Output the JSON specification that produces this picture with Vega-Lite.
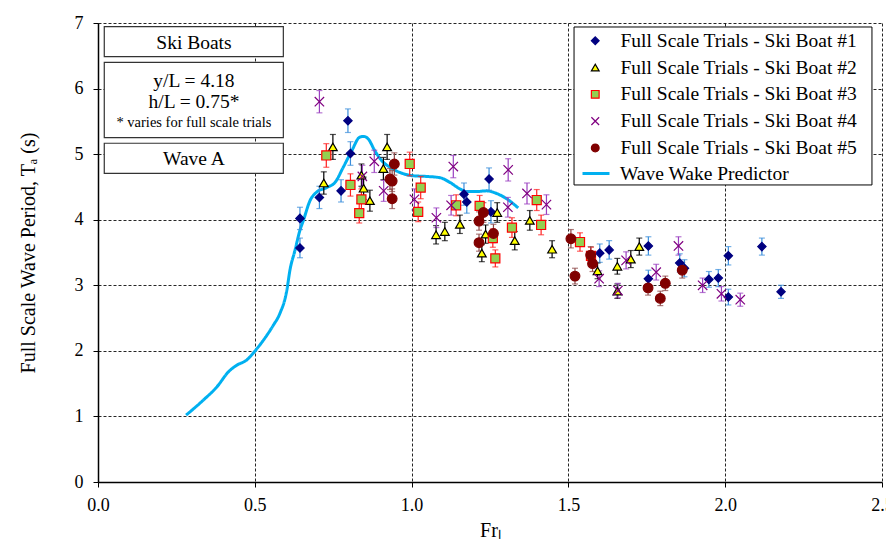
{
  "$schema": "https://vega.github.io/schema/vega-lite/v6.json",
  "width": 784,
  "height": 459,
  "autosize": {"type": "none"},
  "padding": {"left": 98, "top": 23, "right": 4, "bottom": 60},
  "background": "#ffffff",
  "config": {
    "font": "Liberation Serif",
    "view": {"stroke": null},
    "axis": {
      "labelFont": "Liberation Serif",
      "labelFontSize": 18,
      "labelColor": "#000000",
      "titleFont": "Liberation Serif",
      "titleFontSize": 20,
      "titleFontWeight": "normal",
      "titleColor": "#000000",
      "domainColor": "#000000",
      "domainWidth": 1.5,
      "tickColor": "#000000",
      "tickSize": 5,
      "gridColor": "#000000",
      "gridDash": [3, 2],
      "gridWidth": 1,
      "gridOpacity": 0.85,
      "labelFlush": false
    },
    "legend": {
      "labelFont": "Liberation Serif",
      "labelFontSize": 19.5,
      "labelColor": "#000000",
      "labelLimit": 400,
      "padding": 0,
      "rowPadding": 5.8
    }
  },
  "datasets": {
    "pts": [
      {"fr": 0.644, "t": 3.57, "err": 0.15, "series": "Full Scale Trials - Ski Boat #1"},
      {"fr": 0.644, "t": 4.02, "err": 0.17, "series": "Full Scale Trials - Ski Boat #1"},
      {"fr": 0.706, "t": 4.34, "err": 0.17, "series": "Full Scale Trials - Ski Boat #1"},
      {"fr": 0.775, "t": 4.44, "err": 0.17, "series": "Full Scale Trials - Ski Boat #1"},
      {"fr": 0.797, "t": 5.51, "err": 0.18, "series": "Full Scale Trials - Ski Boat #1"},
      {"fr": 0.805, "t": 5.01, "err": 0.18, "series": "Full Scale Trials - Ski Boat #1"},
      {"fr": 1.167, "t": 4.39, "err": 0.17, "series": "Full Scale Trials - Ski Boat #1"},
      {"fr": 1.176, "t": 4.27, "err": 0.17, "series": "Full Scale Trials - Ski Boat #1"},
      {"fr": 1.247, "t": 4.62, "err": 0.17, "series": "Full Scale Trials - Ski Boat #1"},
      {"fr": 1.253, "t": 4.12, "err": 0.17, "series": "Full Scale Trials - Ski Boat #1"},
      {"fr": 1.600, "t": 3.49, "err": 0.14, "series": "Full Scale Trials - Ski Boat #1"},
      {"fr": 1.630, "t": 3.54, "err": 0.14, "series": "Full Scale Trials - Ski Boat #1"},
      {"fr": 1.755, "t": 3.60, "err": 0.14, "series": "Full Scale Trials - Ski Boat #1"},
      {"fr": 1.755, "t": 3.10, "err": 0.13, "series": "Full Scale Trials - Ski Boat #1"},
      {"fr": 1.855, "t": 3.34, "err": 0.14, "series": "Full Scale Trials - Ski Boat #1"},
      {"fr": 1.870, "t": 3.26, "err": 0.13, "series": "Full Scale Trials - Ski Boat #1"},
      {"fr": 1.948, "t": 3.09, "err": 0.12, "series": "Full Scale Trials - Ski Boat #1"},
      {"fr": 1.978, "t": 3.11, "err": 0.13, "series": "Full Scale Trials - Ski Boat #1"},
      {"fr": 2.010, "t": 3.45, "err": 0.14, "series": "Full Scale Trials - Ski Boat #1"},
      {"fr": 2.010, "t": 2.82, "err": 0.12, "series": "Full Scale Trials - Ski Boat #1"},
      {"fr": 2.117, "t": 3.59, "err": 0.13, "series": "Full Scale Trials - Ski Boat #1"},
      {"fr": 2.178, "t": 2.90, "err": 0.10, "series": "Full Scale Trials - Ski Boat #1"},

      {"fr": 0.720, "t": 4.56, "err": 0.17, "series": "Full Scale Trials - Ski Boat #2"},
      {"fr": 0.749, "t": 5.11, "err": 0.19, "series": "Full Scale Trials - Ski Boat #2"},
      {"fr": 0.840, "t": 4.68, "err": 0.17, "series": "Full Scale Trials - Ski Boat #2"},
      {"fr": 0.847, "t": 4.48, "err": 0.17, "series": "Full Scale Trials - Ski Boat #2"},
      {"fr": 0.867, "t": 4.29, "err": 0.16, "series": "Full Scale Trials - Ski Boat #2"},
      {"fr": 0.922, "t": 5.11, "err": 0.19, "series": "Full Scale Trials - Ski Boat #2"},
      {"fr": 0.910, "t": 4.78, "err": 0.17, "series": "Full Scale Trials - Ski Boat #2"},
      {"fr": 1.078, "t": 3.77, "err": 0.14, "series": "Full Scale Trials - Ski Boat #2"},
      {"fr": 1.106, "t": 3.82, "err": 0.14, "series": "Full Scale Trials - Ski Boat #2"},
      {"fr": 1.154, "t": 3.93, "err": 0.14, "series": "Full Scale Trials - Ski Boat #2"},
      {"fr": 1.273, "t": 4.11, "err": 0.15, "series": "Full Scale Trials - Ski Boat #2"},
      {"fr": 1.236, "t": 3.78, "err": 0.14, "series": "Full Scale Trials - Ski Boat #2"},
      {"fr": 1.224, "t": 3.49, "err": 0.13, "series": "Full Scale Trials - Ski Boat #2"},
      {"fr": 1.329, "t": 3.68, "err": 0.14, "series": "Full Scale Trials - Ski Boat #2"},
      {"fr": 1.377, "t": 3.99, "err": 0.15, "series": "Full Scale Trials - Ski Boat #2"},
      {"fr": 1.448, "t": 3.55, "err": 0.13, "series": "Full Scale Trials - Ski Boat #2"},
      {"fr": 1.593, "t": 3.22, "err": 0.12, "series": "Full Scale Trials - Ski Boat #2"},
      {"fr": 1.656, "t": 3.29, "err": 0.12, "series": "Full Scale Trials - Ski Boat #2"},
      {"fr": 1.699, "t": 3.40, "err": 0.13, "series": "Full Scale Trials - Ski Boat #2"},
      {"fr": 1.726, "t": 3.59, "err": 0.13, "series": "Full Scale Trials - Ski Boat #2"},
      {"fr": 1.656, "t": 2.91, "err": 0.11, "series": "Full Scale Trials - Ski Boat #2"},

      {"fr": 0.728, "t": 4.98, "err": 0.18, "series": "Full Scale Trials - Ski Boat #3"},
      {"fr": 0.805, "t": 4.53, "err": 0.17, "series": "Full Scale Trials - Ski Boat #3"},
      {"fr": 0.840, "t": 4.31, "err": 0.16, "series": "Full Scale Trials - Ski Boat #3"},
      {"fr": 0.833, "t": 4.10, "err": 0.15, "series": "Full Scale Trials - Ski Boat #3"},
      {"fr": 0.994, "t": 4.85, "err": 0.18, "series": "Full Scale Trials - Ski Boat #3"},
      {"fr": 1.029, "t": 4.49, "err": 0.17, "series": "Full Scale Trials - Ski Boat #3"},
      {"fr": 1.021, "t": 4.12, "err": 0.15, "series": "Full Scale Trials - Ski Boat #3"},
      {"fr": 1.142, "t": 4.22, "err": 0.16, "series": "Full Scale Trials - Ski Boat #3"},
      {"fr": 1.217, "t": 4.21, "err": 0.16, "series": "Full Scale Trials - Ski Boat #3"},
      {"fr": 1.259, "t": 3.72, "err": 0.14, "series": "Full Scale Trials - Ski Boat #3"},
      {"fr": 1.267, "t": 3.41, "err": 0.13, "series": "Full Scale Trials - Ski Boat #3"},
      {"fr": 1.320, "t": 3.88, "err": 0.15, "series": "Full Scale Trials - Ski Boat #3"},
      {"fr": 1.399, "t": 4.30, "err": 0.16, "series": "Full Scale Trials - Ski Boat #3"},
      {"fr": 1.413, "t": 3.92, "err": 0.15, "series": "Full Scale Trials - Ski Boat #3"},
      {"fr": 1.537, "t": 3.66, "err": 0.14, "series": "Full Scale Trials - Ski Boat #3"},
      {"fr": 1.572, "t": 3.45, "err": 0.13, "series": "Full Scale Trials - Ski Boat #3"},

      {"fr": 0.706, "t": 5.80, "err": 0.17, "series": "Full Scale Trials - Ski Boat #4"},
      {"fr": 0.881, "t": 4.89, "err": 0.17, "series": "Full Scale Trials - Ski Boat #4"},
      {"fr": 0.843, "t": 4.66, "err": 0.17, "series": "Full Scale Trials - Ski Boat #4"},
      {"fr": 0.911, "t": 4.44, "err": 0.16, "series": "Full Scale Trials - Ski Boat #4"},
      {"fr": 1.009, "t": 4.31, "err": 0.16, "series": "Full Scale Trials - Ski Boat #4"},
      {"fr": 1.079, "t": 4.03, "err": 0.15, "series": "Full Scale Trials - Ski Boat #4"},
      {"fr": 1.133, "t": 4.81, "err": 0.17, "series": "Full Scale Trials - Ski Boat #4"},
      {"fr": 1.126, "t": 4.22, "err": 0.15, "series": "Full Scale Trials - Ski Boat #4"},
      {"fr": 1.308, "t": 4.76, "err": 0.17, "series": "Full Scale Trials - Ski Boat #4"},
      {"fr": 1.307, "t": 4.19, "err": 0.15, "series": "Full Scale Trials - Ski Boat #4"},
      {"fr": 1.368, "t": 4.40, "err": 0.16, "series": "Full Scale Trials - Ski Boat #4"},
      {"fr": 1.430, "t": 4.23, "err": 0.15, "series": "Full Scale Trials - Ski Boat #4"},
      {"fr": 1.598, "t": 3.10, "err": 0.12, "series": "Full Scale Trials - Ski Boat #4"},
      {"fr": 1.658, "t": 2.92, "err": 0.11, "series": "Full Scale Trials - Ski Boat #4"},
      {"fr": 1.684, "t": 3.38, "err": 0.13, "series": "Full Scale Trials - Ski Boat #4"},
      {"fr": 1.780, "t": 3.20, "err": 0.12, "series": "Full Scale Trials - Ski Boat #4"},
      {"fr": 1.851, "t": 3.60, "err": 0.14, "series": "Full Scale Trials - Ski Boat #4"},
      {"fr": 1.928, "t": 3.00, "err": 0.11, "series": "Full Scale Trials - Ski Boat #4"},
      {"fr": 1.988, "t": 2.87, "err": 0.11, "series": "Full Scale Trials - Ski Boat #4"},
      {"fr": 2.048, "t": 2.78, "err": 0.10, "series": "Full Scale Trials - Ski Boat #4"},

      {"fr": 0.945, "t": 4.85, "err": 0.17, "series": "Full Scale Trials - Ski Boat #5"},
      {"fr": 0.931, "t": 4.62, "err": 0.16, "series": "Full Scale Trials - Ski Boat #5"},
      {"fr": 0.938, "t": 4.59, "err": 0.16, "series": "Full Scale Trials - Ski Boat #5"},
      {"fr": 0.938, "t": 4.32, "err": 0.15, "series": "Full Scale Trials - Ski Boat #5"},
      {"fr": 1.215, "t": 3.98, "err": 0.14, "series": "Full Scale Trials - Ski Boat #5"},
      {"fr": 1.229, "t": 4.11, "err": 0.15, "series": "Full Scale Trials - Ski Boat #5"},
      {"fr": 1.215, "t": 3.65, "err": 0.13, "series": "Full Scale Trials - Ski Boat #5"},
      {"fr": 1.261, "t": 3.79, "err": 0.14, "series": "Full Scale Trials - Ski Boat #5"},
      {"fr": 1.508, "t": 3.71, "err": 0.14, "series": "Full Scale Trials - Ski Boat #5"},
      {"fr": 1.521, "t": 3.14, "err": 0.12, "series": "Full Scale Trials - Ski Boat #5"},
      {"fr": 1.571, "t": 3.46, "err": 0.13, "series": "Full Scale Trials - Ski Boat #5"},
      {"fr": 1.577, "t": 3.33, "err": 0.12, "series": "Full Scale Trials - Ski Boat #5"},
      {"fr": 1.754, "t": 2.96, "err": 0.11, "series": "Full Scale Trials - Ski Boat #5"},
      {"fr": 1.793, "t": 2.80, "err": 0.11, "series": "Full Scale Trials - Ski Boat #5"},
      {"fr": 1.809, "t": 3.03, "err": 0.11, "series": "Full Scale Trials - Ski Boat #5"},
      {"fr": 1.863, "t": 3.23, "err": 0.12, "series": "Full Scale Trials - Ski Boat #5"}
    ],
    "line": [
      {"fr": 0.281, "t": 1.02},
      {"fr": 0.336, "t": 1.25},
      {"fr": 0.379, "t": 1.45},
      {"fr": 0.416, "t": 1.68},
      {"fr": 0.442, "t": 1.78},
      {"fr": 0.474, "t": 1.86},
      {"fr": 0.501, "t": 2.00},
      {"fr": 0.527, "t": 2.16},
      {"fr": 0.559, "t": 2.39},
      {"fr": 0.580, "t": 2.57},
      {"fr": 0.602, "t": 2.92},
      {"fr": 0.612, "t": 3.23},
      {"fr": 0.628, "t": 3.53},
      {"fr": 0.644, "t": 3.84},
      {"fr": 0.655, "t": 3.99},
      {"fr": 0.676, "t": 4.29},
      {"fr": 0.697, "t": 4.42},
      {"fr": 0.729, "t": 4.49},
      {"fr": 0.756, "t": 4.57},
      {"fr": 0.782, "t": 4.80},
      {"fr": 0.809, "t": 5.05},
      {"fr": 0.835, "t": 5.26},
      {"fr": 0.848, "t": 5.27},
      {"fr": 0.862, "t": 5.23},
      {"fr": 0.883, "t": 5.05},
      {"fr": 0.905, "t": 4.90},
      {"fr": 0.931, "t": 4.80},
      {"fr": 0.963, "t": 4.72},
      {"fr": 1.005, "t": 4.67},
      {"fr": 1.048, "t": 4.66},
      {"fr": 1.091, "t": 4.64},
      {"fr": 1.122, "t": 4.57},
      {"fr": 1.154, "t": 4.47},
      {"fr": 1.176, "t": 4.43},
      {"fr": 1.207, "t": 4.43},
      {"fr": 1.239, "t": 4.44},
      {"fr": 1.271, "t": 4.40},
      {"fr": 1.303, "t": 4.32},
      {"fr": 1.340, "t": 4.18}
    ],
    "boxes": [
      {"x": 0.020, "x2": 0.591, "y": 6.944, "y2": 6.486},
      {"x": 0.020, "x2": 0.591, "y": 6.401, "y2": 5.251},
      {"x": 0.020, "x2": 0.591, "y": 5.166, "y2": 4.708}
    ],
    "legendbox": [
      {"x": 1.518, "x2": 2.468, "y": 6.939, "y2": 4.530}
    ],
    "notes": [
      {"x": 0.306, "y": 6.70, "text": "Ski Boats"},
      {"x": 0.306, "y": 6.11, "text": "y/L = 4.18"},
      {"x": 0.306, "y": 5.79, "text": "h/L = 0.75*"},
      {"x": 0.306, "y": 4.92, "text": "Wave A"}
    ],
    "small": [
      {"x": 0.306, "y": 5.47, "text": "* varies for full scale trials"}
    ]
  },
  "layer": [
    {
      "data": {"name": "line"},
      "mark": {"type": "line", "strokeWidth": 3, "interpolate": "monotone", "stroke": "#00b0f0", "color": "#00b0f0"},
      "encoding": {
        "x": {
          "field": "fr", "type": "quantitative",
          "scale": {"domain": [0, 2.5], "nice": false, "zero": false},
          "axis": {"title": "Frₗ", "values": [0, 0.5, 1, 1.5, 2, 2.5], "format": ".1f", "labelAlign": "center", "labelFlush": false, "labelPadding": 9, "titlePadding": 6, "grid": true}
        },
        "y": {
          "field": "t", "type": "quantitative",
          "scale": {"domain": [0, 7], "nice": false},
          "axis": {"title": "Full Scale Wave Period, Tₐ  (s)", "values": [0, 1, 2, 3, 4, 5, 6, 7], "format": "d", "labelFlush": false, "labelPadding": 10, "titlePadding": 36, "grid": true}
        },
        "strokeDash": {
          "datum": "Wave Wake Predictor", "type": "nominal",
          "scale": {"domain": ["Wave Wake Predictor"], "range": [[1, 0]]},
          "legend": {
            "title": null, "orient": "none", "legendX": 483, "legendY": 135.5,
            "symbolType": "stroke", "symbolSize": 729, "symbolStrokeWidth": 3,
            "symbolStrokeColor": "#00b0f0", "symbolOffset": 0, "labelOffset": 9
          }
        }
      }
    },
    {
      "data": {"name": "pts"},
      "mark": {"type": "errorbar", "ticks": {"size": 6}, "thickness": 1.2},
      "encoding": {
        "x": {"field": "fr", "type": "quantitative", "title": "Frₗ"},
        "y": {"field": "t", "type": "quantitative", "title": "Full Scale Wave Period, Tₐ  (s)"},
        "yError": {"field": "err"},
        "color": {
          "field": "series", "type": "nominal",
          "scale": {
            "domain": ["Full Scale Trials - Ski Boat #5", "Full Scale Trials - Ski Boat #4", "Full Scale Trials - Ski Boat #3", "Full Scale Trials - Ski Boat #2", "Full Scale Trials - Ski Boat #1"],
            "range": ["#8b4545", "#9a3fc0", "#ff2020", "#000000", "#3a8edb"]
          },
          "legend": null
        }
      }
    },
    {
      "data": {"name": "pts"},
      "mark": {"type": "point", "filled": true, "strokeWidth": 1.2, "opacity": 1},
      "encoding": {
        "x": {"field": "fr", "type": "quantitative", "title": "Frₗ"},
        "y": {"field": "t", "type": "quantitative", "title": "Full Scale Wave Period, Tₐ  (s)"},
        "fill": {
          "field": "series", "type": "nominal",
          "scale": {
            "domain": ["Full Scale Trials - Ski Boat #1", "Full Scale Trials - Ski Boat #2", "Full Scale Trials - Ski Boat #3", "Full Scale Trials - Ski Boat #4", "Full Scale Trials - Ski Boat #5"],
            "range": ["#000080", "#ffff00", "#92d050", "#800080", "#800000"]
          },
          "legend": {"title": null, "orient": "none", "legendX": 487.5, "legendY": 8, "symbolSize": 60, "symbolStrokeWidth": 1.2, "symbolOffset": 0, "labelOffset": 15.5}
        },
        "stroke": {
          "field": "series", "type": "nominal",
          "scale": {
            "domain": ["Full Scale Trials - Ski Boat #1", "Full Scale Trials - Ski Boat #2", "Full Scale Trials - Ski Boat #3", "Full Scale Trials - Ski Boat #4", "Full Scale Trials - Ski Boat #5"],
            "range": ["#000080", "#000000", "#ff0000", "#800080", "#800000"]
          },
          "legend": {"title": null, "orient": "none", "legendX": 487.5, "legendY": 8, "symbolSize": 60, "symbolStrokeWidth": 1.2, "symbolOffset": 0, "labelOffset": 15.5}
        },
        "shape": {
          "field": "series", "type": "nominal",
          "scale": {
            "domain": ["Full Scale Trials - Ski Boat #1", "Full Scale Trials - Ski Boat #2", "Full Scale Trials - Ski Boat #3", "Full Scale Trials - Ski Boat #4", "Full Scale Trials - Ski Boat #5"],
            "range": ["diamond", "triangle-up", "square", "M-1,-1L1,1M-1,1L1,-1", "circle"]
          },
          "legend": {"title": null, "orient": "none", "legendX": 487.5, "legendY": 8, "symbolSize": 60, "symbolStrokeWidth": 1.2, "symbolOffset": 0, "labelOffset": 15.5}
        },
        "size": {
          "field": "series", "type": "nominal",
          "scale": {
            "domain": ["Full Scale Trials - Ski Boat #1", "Full Scale Trials - Ski Boat #2", "Full Scale Trials - Ski Boat #3", "Full Scale Trials - Ski Boat #4", "Full Scale Trials - Ski Boat #5", "x"],
            "range": [70, 100, 75, 55, 100, 10]
          },
          "legend": null
        }
      }
    },
    {
      "data": {"name": "boxes"},
      "mark": {"type": "rect", "fill": "#ffffff", "stroke": "#333333", "strokeWidth": 1.2},
      "encoding": {
        "x": {"field": "x", "type": "quantitative", "title": "Frₗ"},
        "x2": {"field": "x2"},
        "y": {"field": "y", "type": "quantitative", "title": "Full Scale Wave Period, Tₐ  (s)"},
        "y2": {"field": "y2"}
      }
    },
    {
      "data": {"name": "legendbox"},
      "mark": {"type": "rect", "fill": "#ffffff", "stroke": "#000000", "strokeWidth": 1},
      "encoding": {
        "x": {"field": "x", "type": "quantitative", "title": "Frₗ"},
        "x2": {"field": "x2"},
        "y": {"field": "y", "type": "quantitative", "title": "Full Scale Wave Period, Tₐ  (s)"},
        "y2": {"field": "y2"}
      }
    },
    {
      "data": {"name": "notes"},
      "mark": {"type": "text", "font": "Liberation Serif", "fontSize": 19.5, "color": "#000000", "baseline": "middle", "align": "center"},
      "encoding": {
        "x": {"field": "x", "type": "quantitative", "title": "Frₗ"},
        "y": {"field": "y", "type": "quantitative", "title": "Full Scale Wave Period, Tₐ  (s)"},
        "text": {"field": "text"}
      }
    },
    {
      "data": {"name": "small"},
      "mark": {"type": "text", "font": "Liberation Serif", "fontSize": 14.5, "color": "#000000", "baseline": "middle", "align": "center"},
      "encoding": {
        "x": {"field": "x", "type": "quantitative", "title": "Frₗ"},
        "y": {"field": "y", "type": "quantitative", "title": "Full Scale Wave Period, Tₐ  (s)"},
        "text": {"field": "text"}
      }
    }
  ]
}
